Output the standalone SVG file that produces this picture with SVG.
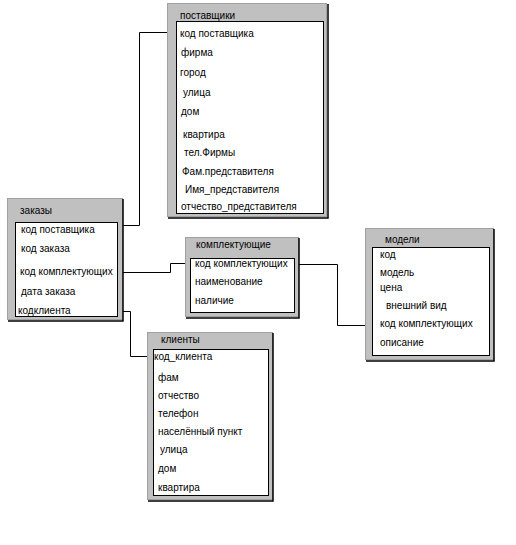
<svg xmlns="http://www.w3.org/2000/svg" width="516" height="545" viewBox="0 0 516 545">
<style>
.outer{fill:#c0c0c0;stroke:#a0a0a0;stroke-width:1}
.shadow{fill:none;stroke:#000;stroke-width:1.5}
.inner{fill:#fff;stroke:#000;stroke-width:1}
text{font-family:"Liberation Sans",Arial,sans-serif;font-size:10px;fill:#000}
.conn{fill:none;stroke:#000;stroke-width:1}
</style>
<rect width="516" height="545" fill="#fff"/>
<g id="connectors">
<path class="conn" d="M117,225.5 H139.5 V32.5 H176"/>
<path class="conn" d="M117,272.5 H170.5 V263.5 H190"/>
<path class="conn" d="M294,264.5 H337.5 V325.5 H372"/>
<path class="conn" d="M116,311.5 H130.5 V356.5 H153"/>
</g>
<g id="postavshchiki">
<rect class="outer" x="167.5" y="3.5" width="159" height="213"/>
<path class="shadow" d="M328,4 V218 H168"/>
<rect class="inner" x="176.5" y="21.5" width="147" height="192"/>
<text x="180" y="19">поставщики</text>
<text x="180" y="37">код поставщика</text>
<text x="181" y="56">фирма</text>
<text x="180" y="76">город</text>
<text x="183" y="96">улица</text>
<text x="181" y="115">дом</text>
<text x="183" y="138">квартира</text>
<text x="184" y="156">тел.Фирмы</text>
<text x="182" y="175">Фам.представителя</text>
<text x="185" y="193">Имя_представителя</text>
<text x="181" y="210">отчество_представителя</text>
</g>
<g id="zakazy">
<rect class="outer" x="7.5" y="198.5" width="115" height="121"/>
<path class="shadow" d="M123,199 V321 H8"/>
<rect class="inner" x="15.5" y="222.5" width="102" height="94"/>
<text x="20" y="214">заказы</text>
<text x="21" y="233">код поставщика</text>
<text x="21" y="252">код заказа</text>
<text x="20" y="275">код комплектующих</text>
<text x="21" y="295">дата заказа</text>
<text x="18" y="314">кодклиента</text>
</g>
<g id="komplektuyushchie">
<rect class="outer" x="185.5" y="237.5" width="113" height="79"/>
<path class="shadow" d="M299,238 V318 H186"/>
<rect class="inner" x="190.5" y="258.5" width="104" height="54"/>
<text x="196" y="248">комплектующие</text>
<text x="195" y="267">код комплектующих</text>
<text x="195" y="285">наименование</text>
<text x="195" y="304">наличие</text>
</g>
<g id="modeli">
<rect class="outer" x="365.5" y="228.5" width="128" height="131"/>
<path class="shadow" d="M494,229 V361 H366"/>
<rect class="inner" x="372.5" y="247.5" width="117" height="108"/>
<text x="385" y="243">модели</text>
<text x="380" y="258">код</text>
<text x="380" y="276">модель</text>
<text x="380" y="291">цена</text>
<text x="386" y="309">внешний вид</text>
<text x="380" y="327">код комплектующих</text>
<text x="380" y="346">описание</text>
</g>
<g id="klienty">
<rect class="outer" x="147.5" y="332.5" width="125" height="167"/>
<path class="shadow" d="M273,333 V501 H148"/>
<rect class="inner" x="153.5" y="349.5" width="115" height="146"/>
<text x="161" y="343">клиенты</text>
<text x="154" y="360">код_клиента</text>
<text x="158" y="381">фам</text>
<text x="158" y="399">отчество</text>
<text x="158" y="417">телефон</text>
<text x="158" y="435">населённый пункт</text>
<text x="160" y="453">улица</text>
<text x="158" y="472">дом</text>
<text x="158" y="491">квартира</text>
</g>
</svg>
